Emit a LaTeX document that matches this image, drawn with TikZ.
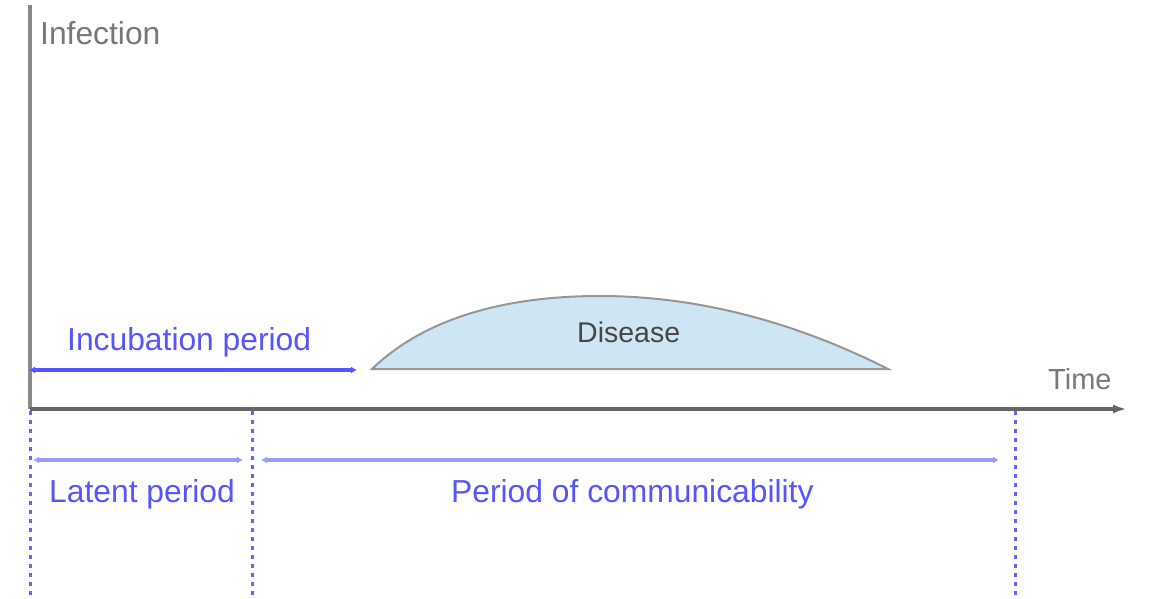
\documentclass[tikz,border=0pt]{standalone}
\usepackage{fontspec}
\setmainfont{Liberation Sans}
\usetikzlibrary{arrows.meta}
\definecolor{axisgray}{RGB}{102,102,102}
\definecolor{yaxgray}{RGB}{136,136,136}
\definecolor{lblgray}{RGB}{120,120,120}
\definecolor{disgray}{RGB}{70,70,70}
\definecolor{perblue}{RGB}{85,85,255}
\definecolor{lightblue}{RGB}{155,155,255}
\definecolor{dotblue}{RGB}{100,100,255}
\definecolor{disfill}{RGB}{206,230,244}
\definecolor{disline}{RGB}{150,150,150}
\tikzset{
  lbl/.style={font=\fontsize{31.8}{36}\selectfont, inner sep=0pt, anchor=base west},
  bluelbl/.style={lbl, text=perblue},
  graylbl/.style={lbl, text=lblgray},
  period/.style={line width=3.5pt, {Latex[length=6pt,width=7pt]}-{Latex[length=6pt,width=7pt]}},
  dotline/.style={dotblue, line width=3pt, dash pattern=on 4pt off 5pt},
}
\begin{document}
\begin{tikzpicture}[x=1pt,y=-1pt]
\useasboundingbox (0,0) rectangle (1152,599);
% axes
\coordinate (O) at (30,409);
\coordinate (ytop) at (30,5);
\coordinate (xend) at (1127,409);
\draw[yaxgray, line width=4pt] (O) -- (ytop);
\draw[axisgray, line width=3.5pt, -{Latex[length=14pt,width=9pt]}] (O) -- (xend);
\node[graylbl] (infection) at (40,45) {Infection};
\node[graylbl, font=\fontsize{29}{34}\selectfont] (time) at (1048,389) {Time};
% disease
\coordinate (dL) at (372,369);
\coordinate (dR) at (888,369);
\draw[disline, line width=2pt, fill=disfill] (dL) .. controls (425,318) and (505,296) .. (600,296)
  .. controls (715,296) and (815,332) .. (dR) -- cycle;
\node[font=\fontsize{28.5}{32}\selectfont, text=disgray, inner sep=0pt, anchor=base west] (disease) at (577,342) {Disease};
% incubation
\coordinate (incA) at (29,370);
\coordinate (incB) at (357,370);
\draw[period, perblue] (incA) -- (incB);
\node[bluelbl] (inclbl) at (67,350) {Incubation period};
% dotted verticals
\coordinate (v1t) at (30,411);
\coordinate (v1b) at (30,599);
\coordinate (v2t) at (252,411);
\coordinate (v2b) at (252,599);
\coordinate (v3t) at (1015,411);
\coordinate (v3b) at (1015,599);
\draw[dotline] (v1t) -- (v1b);
\draw[dotline] (v2t) -- (v2b);
\draw[dotline] (v3t) -- (v3b);
% latent
\coordinate (latA) at (33,460);
\coordinate (latB) at (243,460);
\draw[period, lightblue] (latA) -- (latB);
\node[bluelbl] (latlbl) at (49,502) {Latent period};
% communicability
\coordinate (comA) at (261,460);
\coordinate (comB) at (999,460);
\draw[period, lightblue] (comA) -- (comB);
\node[bluelbl] (comlbl) at (451,502) {Period of communicability};
\end{tikzpicture}
\end{document}
